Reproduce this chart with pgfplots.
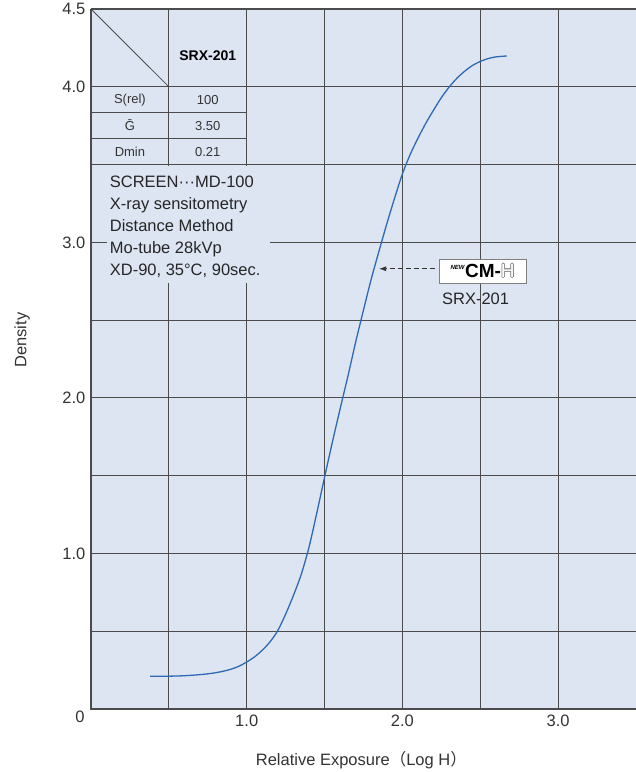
\documentclass[border=0pt]{standalone}
\usepackage{pgfplots}
\pgfplotsset{compat=1.18}
\usetikzlibrary{arrows.meta}
\usepackage{fontspec}
\setmainfont{Liberation Sans}
\newfontfamily\cjk{Noto Sans CJK JP}
\usepackage{contour}
\definecolor{bgblue}{RGB}{221,229,243}
\definecolor{curveblue}{RGB}{46,106,179}
\definecolor{gridgray}{RGB}{75,75,75}

\begin{document}
\fontsize{16.5bp}{20bp}\selectfont
\begin{tikzpicture}
\begin{axis}[
    name=ax,
    scale only axis,
    width=545bp, height=700bp,
    xmin=0, xmax=3.5, ymin=0, ymax=4.5,
    clip=false,
    axis background/.style={fill=bgblue},
    xtick={1,2,3}, xticklabels={1.0,2.0,3.0},
    ytick={1,2,3,4,4.5}, yticklabels={1.0,2.0,3.0,4.0,4.5},
    minor xtick={0.5,1.5,2.5},
    minor ytick={0.5,1.5,2.5,3.5},
    grid=both,
    major grid style={gridgray, line width=0.8bp},
    minor grid style={gridgray, line width=0.8bp},
    major tick length=0pt, minor tick length=0pt,
    axis line style={draw=none},
    /pgf/number format/assume math mode=true,
    tick label style={font=\fontsize{16.5bp}{20bp}\selectfont, text=black!80},
    xlabel={Relative Exposure{\cjk （}Log H{\cjk ）}},
    ylabel={Density},
    xlabel style={at={(rel axis cs:0.496,0)}, anchor=center, yshift=-51bp, text=black!80},
    ylabel style={at={(rel axis cs:0,0.527)}, anchor=center, yshift=69bp, text=black!80},
]
% characteristic curve
\addplot[curveblue, line width=1.3bp, smooth] coordinates {
(0.38,0.210)(0.45,0.210)(0.50,0.211)(0.55,0.212)(0.60,0.214)(0.65,0.217)
(0.70,0.221)(0.75,0.226)(0.80,0.233)(0.85,0.243)(0.90,0.256)(0.95,0.275)
(1.00,0.302)(1.05,0.335)(1.10,0.378)(1.15,0.432)(1.20,0.505)(1.25,0.610)
(1.30,0.730)(1.35,0.865)(1.40,1.040)(1.45,1.260)(1.50,1.490)(1.55,1.715)
(1.60,1.930)(1.65,2.140)(1.70,2.360)(1.75,2.565)(1.80,2.765)(1.85,2.945)
(1.90,3.120)(1.95,3.285)(2.00,3.440)(2.05,3.565)(2.10,3.670)(2.15,3.765)
(2.20,3.850)(2.25,3.930)(2.30,3.998)(2.35,4.055)(2.40,4.100)(2.45,4.137)
(2.50,4.163)(2.55,4.181)(2.60,4.192)(2.67,4.198)};

% frame (left, bottom, top)
\draw[gridgray, line width=1.3bp] (rel axis cs:0,1) -- (rel axis cs:0,0) -- (rel axis cs:1,0);
\draw[gridgray, line width=1bp] (rel axis cs:0,1) -- (rel axis cs:1,1);

% table
\draw[gridgray, line width=0.8bp] (axis cs:0,4.5) -- (axis cs:0.5,4.0);
\draw[gridgray, line width=0.8bp] (axis cs:0,3.8333) -- (axis cs:1,3.8333);
\draw[gridgray, line width=0.8bp] (axis cs:0,3.6667) -- (axis cs:1,3.6667);
\node[font=\fontsize{14bp}{16bp}\selectfont\bfseries] at (axis cs:0.75,4.2) {SRX-201};
\begin{scope}[every node/.style={font=\fontsize{13bp}{15bp}\selectfont, text=black!80}]
\node at (axis cs:0.25,3.917) {S(rel)};
\node at (axis cs:0.75,3.917) {100};
\node at (axis cs:0.25,3.75) {\={G}};
\node at (axis cs:0.75,3.75) {3.50};
\node at (axis cs:0.25,3.583) {Dmin};
\node at (axis cs:0.75,3.583) {0.21};
\end{scope}

% conditions box
\fill[bgblue] (axis cs:0.1,2.74) rectangle (axis cs:1.15,3.49);
\node[anchor=north west, inner sep=0, align=left, text=black!85,
      font=\fontsize{16.5bp}{22bp}\selectfont] at (axis cs:0.12,3.426)
  {SCREEN\textperiodcentered\textperiodcentered\textperiodcentered MD-100\\
   X-ray sensitometry\\
   Distance Method\\
   Mo-tube 28kVp\\
   XD-90, 35°C, 90sec.};

% callout
\draw[black!80, line width=0.8bp, dash pattern=on 5bp off 3bp, -{Latex[length=7bp,width=5bp]}]
  (axis cs:2.21,2.83) -- (axis cs:1.85,2.83);
\node[draw=gray, fill=white, line width=0.8bp, minimum width=87bp, minimum height=24bp, inner sep=0]
  at (axis cs:2.515,2.815)
  {\raisebox{8bp}{\fontsize{6bp}{6bp}\selectfont\bfseries\itshape NEW}\hspace{0.5bp}%
   {\fontsize{19bp}{20bp}\selectfont\bfseries CM-}%
   {\fontsize{19bp}{20bp}\selectfont\contourlength{0.6bp}\contour{gray!90}{\textcolor{white}{H}}}};
\node[text=black!85] at (axis cs:2.47,2.64) {SRX-201};
\end{axis}
% origin label
\node[text=black!80] at ([shift={(-11bp,-8bp)}]ax.south west) {0};
\pgfresetboundingbox
\path ([shift={(-91bp,-63bp)}]ax.south west) rectangle ([shift={(0bp,9bp)}]ax.north east);
\end{tikzpicture}
\end{document}
